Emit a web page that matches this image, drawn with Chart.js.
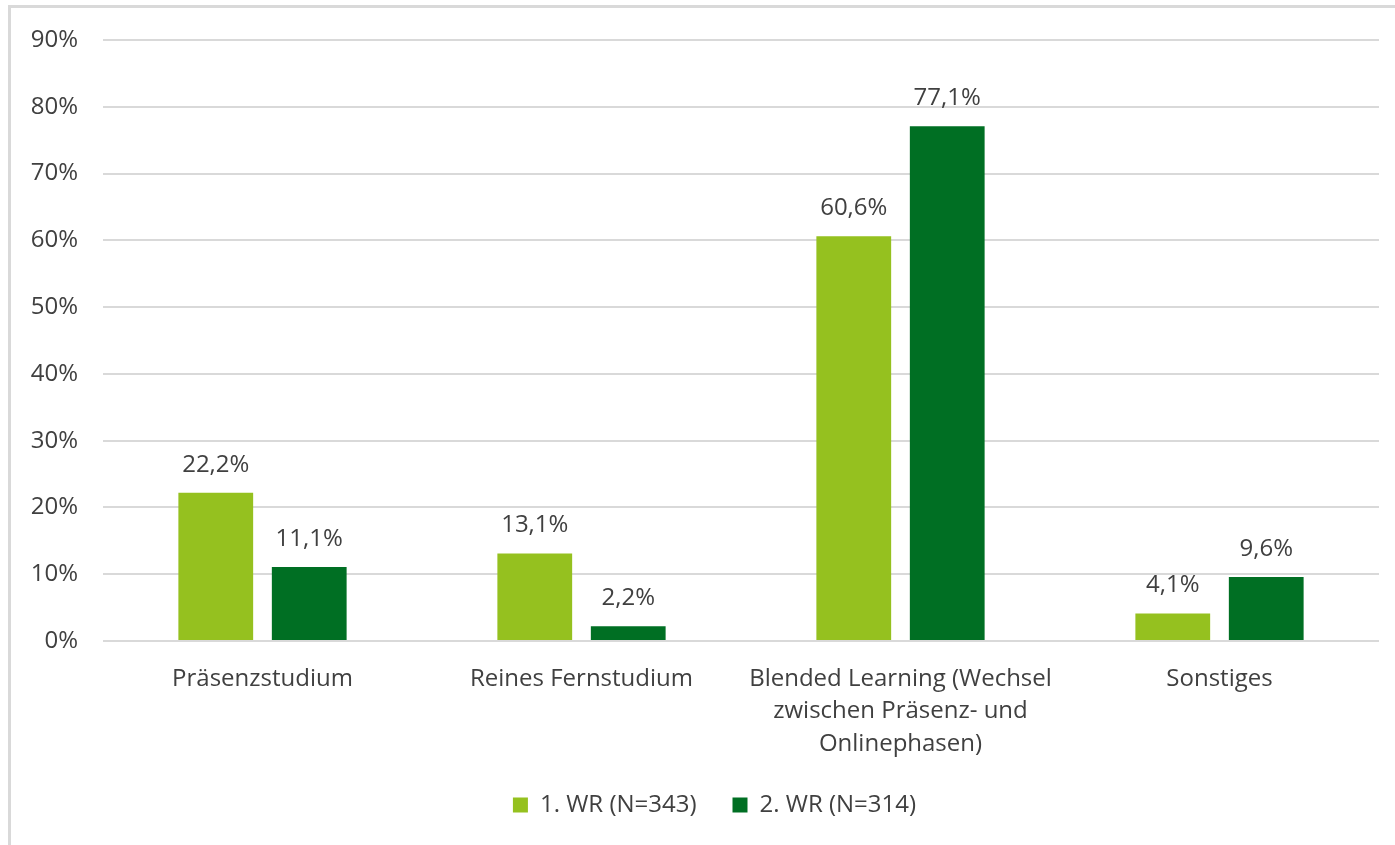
<!DOCTYPE html>
<html>
<head>
<meta charset="utf-8">
<script src="https://cdn.jsdelivr.net/npm/chart.js"></script>
<style>
    html, body { margin: 0; padding: 0; background: #fff; overflow: hidden; }
    #frame { position: absolute; left: 8px; top: 5px; right: -10px; bottom: -10px;
             border-left: 3px solid #d9d9d9; border-top: 3px solid #d9d9d9; }
    #chart { position: absolute; left: 0; top: 0; }
</style>
</head>
<body>
<div id="frame"></div>
<canvas id="chart" width="1395" height="845"></canvas>
<script>
// data
var categories = [
    "Präsenzstudium",
    "Reines Fernstudium",
    ["Blended Learning (Wechsel", "zwischen Präsenz- und", "Onlinephasen)"],
    "Sonstiges"
];
var seriesNames = ["1. WR (N=343)", "2. WR (N=314)"];
var wave1 = [22.2, 13.1, 60.6, 4.1];
var wave2 = [11.1, 2.2, 77.1, 9.6];
var yMin = 0, yMax = 90, yStep = 10;

var colors = ["#95c11f", "#006f23"];
var textColor = "#404040";

Chart.defaults.font.family = "'Open Sans'";
Chart.defaults.font.size = 24;
Chart.defaults.color = textColor;

// percentage labels above the bars
var valueLabels = {
    id: "valueLabels",
    afterDatasetsDraw(chart) {
        var ctx = chart.ctx;
        ctx.save();
        ctx.font = "24px 'Open Sans'";
        ctx.fillStyle = textColor;
        ctx.textAlign = "center";
        ctx.textBaseline = "middle";
        chart.data.datasets.forEach(function (ds, i) {
            chart.getDatasetMeta(i).data.forEach(function (bar, j) {
                var txt = ds.data[j].toFixed(1).replace(".", ",") + "%";
                ctx.fillText(txt, bar.x, bar.y - 28);
            });
        });
        ctx.restore();
    }
};

// legend is centred on the full (uncropped) chart, a bit right of ours,
// and sits a little higher than its box
var legendShift = {
    id: "legendShift",
    afterLayout(chart) {
        chart.legend.left += 25;
        chart.legend.right += 25;
        chart.legend.top -= 8;
        chart.legend.bottom -= 8;
    }
};

new Chart("chart", {
    type: "bar",
    data: {
        labels: categories,
        datasets: [{
            label: seriesNames[0],
            data: wave1,
            backgroundColor: colors[0]
        }, {
            label: seriesNames[1],
            data: wave2,
            backgroundColor: colors[1]
        }]
    },
    options: {
        responsive: false,
        animation: false,
        devicePixelRatio: 1,
        categoryPercentage: 0.586,
        barPercentage: 0.8,
        layout: { padding: { left: 0, right: 16, top: 40, bottom: 10 } },
        plugins: {
            legend: {
                position: "bottom",
                maxHeight: 70,
                labels: { boxWidth: 15, boxHeight: 15, padding: 36, color: textColor }
            },
            tooltip: { enabled: false }
        },
        scales: {
            x: {
                grid: { display: false },
                border: { display: false },
                ticks: {
                    padding: 14,
                    maxRotation: 0,
                    autoSkip: false,
                    font: { size: 24, lineHeight: 1.35 }
                },
                afterFit: function (scale) { scale.height = 124; }
            },
            y: {
                min: yMin,
                max: yMax,
                grid: { color: "#d9d9d9", lineWidth: 2, drawTicks: false },
                border: { display: false },
                ticks: {
                    stepSize: yStep,
                    padding: 25,
                    callback: function (v) { return v + "%"; }
                },
                afterFit: function (scale) { scale.width = 103; }
            }
        }
    },
    plugins: [valueLabels, legendShift]
});
</script>
</body>
</html>
